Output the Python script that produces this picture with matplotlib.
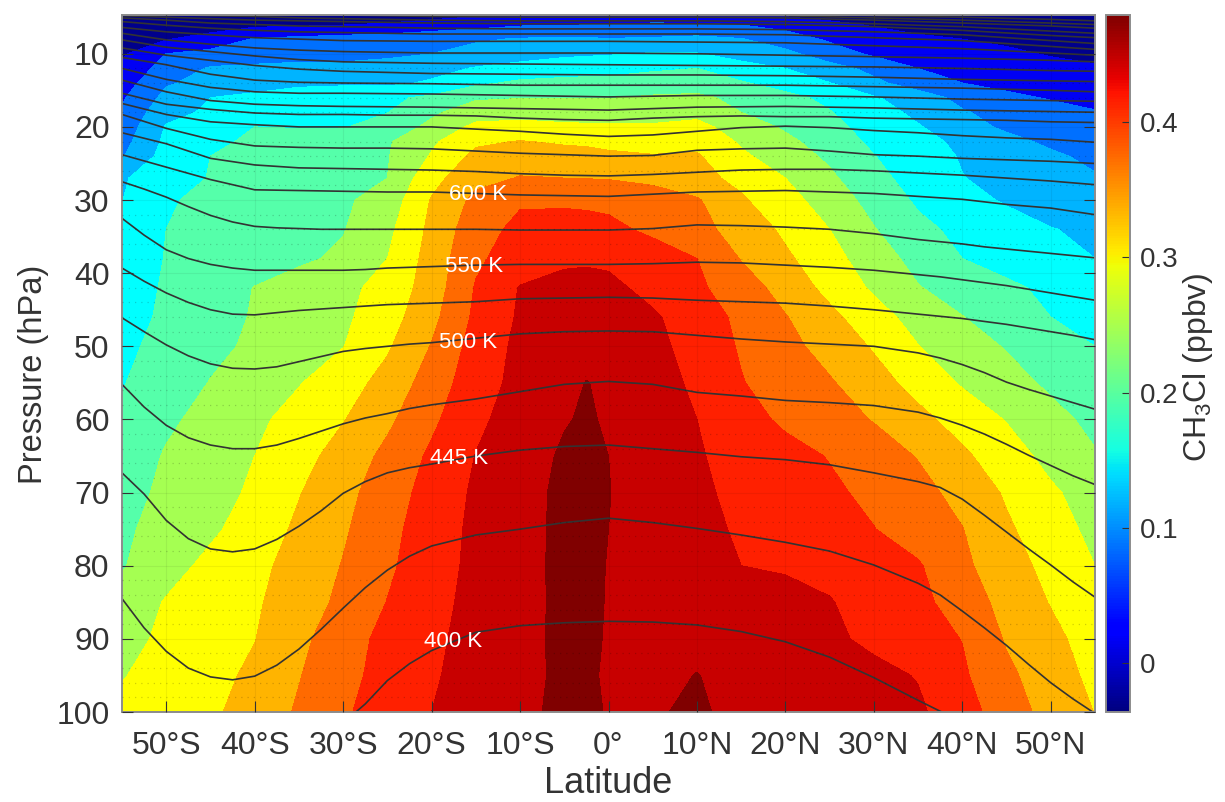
import numpy as np
import matplotlib
matplotlib.use('Agg')
import matplotlib.pyplot as plt
from matplotlib.cm import ScalarMappable
from matplotlib.colors import Normalize

plt.rcParams['font.family'] = ['Liberation Sans', 'DejaVu Sans']
plt.rcParams['mathtext.default'] = 'regular'

# grid of the CH3Cl field
lat = [-55, -50, -45, -40, -35, -30, -25, -20, -15, -10, -5, -2.5, 0, 5, 10, 15, 20, 25, 30, 35, 40, 45, 50, 55]
pres = [4.5, 6, 8, 10, 12, 14, 16, 18, 20, 22, 24, 27, 30, 34, 38, 42, 46, 50, 55, 60, 65, 70, 75, 80, 85, 90, 95, 100]
ch3cl = [
    [-.015, -.01, -.005, 0, .005, .01, .015, .02, .03, .036, .041, .045, .05, .05, .044, .036, .03, .02, .01, 0, -.003, -.007, -.01, -.01],
    [0, .01, .02, .03, .033, .038, .044, .055, .065, .075, .077, .079, .081, .085, .085, .079, .065, .05, .036, .02, .015, .01, .005, 0],
    [.015, .038, .055, .083, .09, .095, .10, .108, .115, .123, .127, .125, .122, .125, .13, .122, .10, .074, .06, .05, .04, .033, .025, .018],
    [.034, .08, .091, .10, .106, .105, .11, .12, .134, .145, .153, .155, .157, .163, .162, .145, .13, .10, .073, .063, .055, .047, .037, .031],
    [.048, .096, .124, .128, .13, .132, .14, .147, .163, .172, .18, .183, .186, .195, .20, .175, .16, .134, .11, .08, .07, .06, .052, .044],
    [.061, .116, .132, .145, .153, .154, .152, .165, .192, .208, .212, .213, .213, .217, .22, .204, .183, .161, .128, .103, .08, .07, .063, .0565],
    [.075, .131, .16, .168, .177, .185, .193, .207, .235, .238, .238, .238, .238, .245, .248, .2295, .2115, .19, .164, .137, .11, .088, .077, .07],
    [.085, .148, .166, .174, .182, .19, .199, .233, .26, .272, .268, .268, .27, .27, .27, .24, .221, .202, .177, .151, .123, .108, .094, .082],
    [.095, .163, .182, .20, .198, .198, .2145, .25, .29, .287, .285, .284, .283, .283, .29, .264, .234, .21, .186, .163, .136, .113, .097, .092],
    [.105, .169, .192, .2064, .216, .226, .2355, .273, .313, .322, .315, .313, .305, .30, .309, .275, .25, .22, .193, .172, .152, .132, .112, .102],
    [.117, .176, .20, .2097, .219, .228, .2375, .2835, .33, .342, .335, .333, .33, .323, .324, .287, .259, .233, .201, .178, .157, .142, .127, .11],
    [.156, .182, .202, .212, .2214, .231, .24, .307, .348, .362, .36, .359, .358, .35, .332, .31, .28, .247, .212, .184, .161, .15, .138, .124],
    [.159, .197, .2066, .216, .225, .234, .256, .323, .37, .395, .392, .39, .388, .38, .364, .325, .294, .262, .226, .194, .172, .156, .148, .137],
    [.166, .20, .2095, .219, .229, .238, .27, .33, .384, .41, .42, .418, .412, .39, .371, .346, .312, .28, .242, .21, .19, .176, .161, .155],
    [.172, .202, .213, .224, .234, .246, .28, .336, .393, .42, .433, .435, .433, .424, .40, .358, .327, .294, .259, .227, .20, .186, .173, .16],
    [.178, .205, .223, .241, .255, .27, .293, .339, .403, .442, .452, .452, .449, .429, .407, .379, .345, .308, .274, .242, .224, .207, .192, .185],
    [.184, .207, .225, .243, .258, .273, .302, .349, .408, .445, .453, .455, .453, .445, .421, .391, .362, .33, .296, .265, .241, .22, .20, .19],
    [.192, .211, .23, .247, .263, .279, .315, .362, .416, .449, .461, .466, .465, .45, .426, .396, .372, .345, .316, .281, .259, .237, .219, .20],
    [.198, .219, .2415, .26, .278, .302, .334, .378, .423, .451, .47, .481, .474, .458, .432, .402, .382, .364, .336, .306, .276, .255, .233, .215],
    [.205, .232, .254, .272, .294, .318, .352, .392, .432, .457, .4775, .484, .476, .46, .44, .415, .393, .375, .358, .331, .304, .278, .252, .23],
    [.212, .244, .262, .28, .306, .336, .37, .407, .441, .463, .485, .486, .48, .46, .443, .428, .413, .398, .378, .358, .327, .298, .268, .243],
    [.224, .249, .266, .286, .318, .348, .381, .415, .446, .467, .488, .487, .481, .463, .446, .432, .419, .407, .391, .372, .348, .315, .286, .262],
    [.233, .2545, .273, .298, .327, .355, .388, .421, .448, .468, .488, .487, .48, .465, .449, .436, .424, .412, .401, .381, .361, .326, .297, .27],
    [.237, .265, .29, .31, .334, .362, .393, .424, .449, .469, .488, .486, .479, .465, .452, .44, .437, .43, .42, .404, .368, .337, .308, .28],
    [.254, .283, .299, .315, .34, .369, .401, .428, .451, .469, .4875, .486, .4785, .465, .458, .453, .449, .442, .425, .41, .383, .346, .318, .29],
    [.266, .2885, .304, .319, .35, .383, .411, .433, .452, .47, .4875, .485, .478, .467, .47, .462, .455, .447, .432, .416, .399, .356, .33, .303],
    [.278, .294, .309, .327, .358, .388, .414, .436, .454, .471, .486, .485, .476, .47, .481, .468, .462, .456, .45, .438, .406, .368, .339, .31],
    [.29, .302, .314, .335, .365, .395, .418, .44, .456, .472, .488, .486, .478, .474, .49, .46, .458, .453, .45, .446, .418, .378, .347, .319],
]
levels = [-1, .04, .08, .12, .16, .20, .24, .28, .32, .36, .40, .44, .48, 1]
band_colors = ['#00008c', '#0000f5', '#0070ff', '#00b4ff', '#00ffff', '#55ffaa', '#a5ff52',
               '#ffff00', '#ffb400', '#ff6a00', '#ff2000', '#c80000', '#800000']

# isentropes, pressure (hPa) at each latitude
lat_low = [-55, -52.5, -50, -47.5, -45, -42.5, -40, -37.5, -35, -32.5, -30, -27.5, -25, -22.5, -20, -15, -10, -5, 0,
           5, 10, 15, 20, 25, 30, 35, 37.5, 40, 42.5, 45, 47.5, 50, 52.5, 55]
isentropes_low = [
    [103, 103, 103, 103, 103, 103, 103, 103, 103, 103, 101.5, 98.9, 95.7, 93.4, 91.6, 89.1, 88.2, 87.8, 87.6,
     87.7, 88.1, 89, 90.4, 92.5, 95.3, 98.4, 99.9, 101.2, 103, 103, 103, 103, 103, 103],
    [84.5, 88.5, 91.7, 94, 95.2, 95.6, 95.1, 93.6, 91.4, 88.7, 85.8, 83, 80.6, 78.7, 77.3, 75.8, 75, 74.1, 73.5,
     74.1, 74.9, 75.8, 76.8, 78, 79.9, 82.4, 84, 86.2, 88.5, 90.9, 93.5, 96, 98.2, 100.2],
    [67.3, 70.2, 73.8, 76.3, 77.7, 78.1, 77.7, 76.4, 74.6, 72.5, 70.1, 68.5, 67.3, 66.6, 66.1, 65, 64.2, 63.7, 63.5,
     64, 64.5, 65.1, 65.5, 66.2, 67.3, 68.5, 69.3, 70.9, 73.1, 75.4, 77.7, 79.9, 82.2, 84.3],
    [55.2, 58.3, 60.8, 62.5, 63.5, 64, 64, 63.5, 62.6, 61.6, 60.6, 59.8, 59.2, 58.5, 58, 57.2, 56.2, 55.2, 54.8,
     55.2, 56.3, 56.8, 57.4, 57.7, 58.1, 59, 59.8, 60.8, 62, 63.4, 64.9, 66.3, 67.7, 68.9],
    [46.1, 48, 49.8, 51.3, 52.4, 53, 53.1, 52.8, 52.1, 51.4, 50.7, 50.3, 50, 49.7, 49.5, 48.9, 48.3, 48, 47.9,
     48, 48.5, 49, 49.4, 49.7, 50, 50.9, 51.6, 52.5, 53.6, 54.9, 55.9, 56.8, 57.7, 58.6],
    [39.3, 41.1, 42.7, 44, 45, 45.6, 45.7, 45.4, 45.1, 44.9, 44.7, 44.5, 44.3, 44.2, 44.1, 43.9, 43.5, 43.4, 43.3,
     43.4, 43.7, 43.9, 44.1, 44.5, 45, 45.6, 45.9, 46.2, 46.6, 47, 47.5, 48, 48.5, 49.1],
    [32.5, 34.8, 36.8, 38, 38.8, 39.3, 39.6, 39.6, 39.6, 39.6, 39.6, 39.5, 39.3, 39.2, 39.1, 38.9, 38.8, 38.8, 38.8,
     38.7, 38.5, 38.6, 38.9, 39.2, 39.6, 40.2, 40.5, 40.9, 41.3, 41.7, 42.2, 42.7, 43.2, 43.7],
    [27.5, 28.5, 29.6, 30.9, 32.1, 33, 33.6, 33.8, 33.9, 34, 34, 34, 34, 34, 34, 34, 34.1, 34.1, 34.1,
     33.9, 33.4, 33.5, 33.7, 34, 34.6, 35.4, 35.7, 36, 36.4, 36.7, 37, 37.3, 37.6, 37.9],
]
lat_mid = [-55, -50, -45, -40, -35, -30, -25, -20, -15, -10, -5, 0, 5, 10, 15, 20, 25, 30, 35, 40, 45, 50, 55]
isentropes_mid = [
    [23.8, 25.5, 27.2, 28.6, 28.7, 28.8, 28.9, 28.9, 29.1, 29.3, 29.4, 29.5, 29.2, 28.9, 28.8, 28.7, 28.9, 29.1, 29.5, 29.9, 30.6, 31.1, 32],
    [20.8, 22.3, 24.3, 25.2, 25.6, 25.7, 25.8, 25.9, 26.1, 26.4, 26.6, 26.7, 26.5, 26.2, 25.9, 25.8, 25.8, 26, 26.3, 26.6, 27, 27.4, 27.9],
    [18.3, 20.2, 21.7, 22.6, 22.8, 22.9, 22.9, 23, 23.3, 23.6, 23.8, 24, 23.9, 23.2, 23, 22.9, 23.3, 23.8, 24, 24.3, 24.5, 24.7, 25],
    [16.8, 18.3, 19.3, 19.7, 20, 20, 20, 20, 20.3, 20.6, 21, 21.3, 21.1, 20.6, 20.1, 19.9, 20.1, 20.5, 20.8, 21.2, 21.5, 21.7, 22.1],
    [15.4, 16.9, 17.6, 18.1, 18.3, 18.3, 18.4, 18.4, 18.5, 18.8, 19, 19.1, 18.8, 18.6, 18.5, 18.6, 18.6, 18.8, 18.9, 19, 19.1, 19.3, 19.4],
]
lat_upper = [-55, -50, -45, -40, -35, -30, -20, -10, 0, 10, 20, 30, 40, 50, 55]
isentropes_upper = [
    [13.6, 15.2, 16.4, 16.9, 17.1, 17.2, 17.3, 17.5, 17.7, 17.3, 17.2, 17.4, 17.7, 17.9, 18],
    [12, 13.5, 14.6, 15.2, 15.4, 15.4, 15.5, 15.7, 15.9, 15.7, 15.7, 15.9, 16.2, 16.4, 16.5],
    [10.5, 11.5, 12.8, 13.6, 13.9, 14, 14.1, 14.3, 14.3, 14.3, 14.3, 14.5, 14.7, 15, 15.2],
    [9.2, 10.2, 10.9, 11.6, 12.1, 12.4, 12.7, 12.8, 12.9, 12.9, 13, 13.2, 13.5, 13.7, 13.8],
    [8.1, 9.1, 9.7, 10.3, 10.8, 11.1, 11.3, 11.4, 11.5, 11.6, 11.7, 11.8, 12, 12.3, 12.4],
    [7.2, 8.1, 8.7, 9.2, 9.5, 9.7, 9.9, 9.9, 9.9, 10, 10.2, 10.4, 10.6, 10.9, 11.1],
    [6.4, 7, 7.4, 7.8, 8, 8.2, 8.3, 8.3, 8.3, 8.4, 8.5, 8.9, 9.3, 9.9, 10.2],
    [5.6, 6.1, 6.5, 6.8, 7, 7.1, 7.3, 7.3, 7.3, 7.3, 7.4, 7.8, 8.2, 9, 9.4],
    [5.1, 5.4, 5.8, 6, 6.2, 6.3, 6.5, 6.6, 6.6, 6.6, 6.7, 7, 7.4, 8.2, 8.6],
    [4.8, 5, 5.2, 5.4, 5.5, 5.6, 5.8, 5.9, 5.9, 5.9, 6, 6.3, 6.8, 7.5, 7.8],
    [4.4, 4.6, 4.8, 4.9, 5.1, 5.2, 5.4, 5.5, 5.5, 5.5, 5.6, 5.9, 6.3, 6.9, 7.2],
    [4.1, 4.2, 4.3, 4.4, 4.6, 4.7, 4.9, 5, 5, 5, 5.1, 5.4, 5.8, 6.2, 6.5],
    [3.9, 4, 4.1, 4.2, 4.4, 4.5, 4.6, 4.7, 4.75, 4.75, 4.8, 5.1, 5.4, 5.8, 6],
    [3.7, 3.8, 3.9, 4, 4.1, 4.2, 4.3, 4.4, 4.45, 4.45, 4.5, 4.8, 5, 5.3, 5.5],
]
theta_labels = ['600 K', '550 K', '500 K', '445 K', '400 K']
theta_label_lat = [-14.8, -15.2, -15.9, -16.9, -17.6]
theta_label_pres = [29.2, 39.1, 49.5, 65.3, 90.3]

lat_ticks = [-50, -40, -30, -20, -10, 0, 10, 20, 30, 40, 50]
lat_tick_labels = ['50°S', '40°S', '30°S', '20°S', '10°S', '0°', '10°N', '20°N', '30°N', '40°N', '50°N']
pres_ticks = [10, 20, 30, 40, 50, 60, 70, 80, 90, 100]
cbar_ticks = [0, 0.1, 0.2, 0.3, 0.4]

text_color = '#333333'
frame_color = '#8c8c8c'

fig = plt.figure(figsize=(12.25, 8.02), dpi=100)
ax = fig.add_axes([122 / 1225, 1 - 712 / 802, 973 / 1225, 697 / 802])
ax.contourf(lat, pres, np.array(ch3cl), levels=levels, colors=band_colors)

for line in isentropes_low:
    ax.plot(lat_low, line, color='#333333', lw=1.2)
for line in isentropes_mid:
    ax.plot(lat_mid, line, color='#333333', lw=1.2)
for line in isentropes_upper:
    ax.plot(lat_upper, line, color='#333333', lw=1.2)

for name, x, y in zip(theta_labels, theta_label_lat, theta_label_pres):
    ax.text(x, y, name, color='white', fontsize=16, ha='center', va='center')

ax.set_xlim(-55, 55)
ax.set_ylim(100, 4.7)
ax.set_xticks(lat_ticks)
ax.set_xticklabels(lat_tick_labels)
ax.set_yticks(pres_ticks)
ax.set_yticks(np.arange(12, 100, 2), minor=True)
ax.tick_params(axis='both', which='major', direction='in', length=8, width=0.8, top=True, right=True,
               labelsize=23, colors=text_color, pad=9)
ax.tick_params(axis='x', which='major', pad=14)
ax.tick_params(axis='y', which='minor', length=0)
ax.grid(True, which='major', color='black', alpha=0.06, lw=0.8)
ax.grid(True, which='minor', axis='y', color='black', alpha=0.18, lw=0.9, linestyle=(0, (1, 4)))
ax.set_axisbelow(False)
ax.set_xlabel('Latitude', fontsize=26, color=text_color, labelpad=3)
ax.set_ylabel('Pressure (hPa)', fontsize=23.5, color=text_color, labelpad=5, y=0.485)
for s in ax.spines.values():
    s.set_color(frame_color)
    s.set_linewidth(1.4)

cax = fig.add_axes([1106 / 1225, 1 - 712 / 802, 24 / 1225, 697 / 802])
sm = ScalarMappable(norm=Normalize(-0.036, 0.479), cmap='jet')
cb = fig.colorbar(sm, cax=cax)
cb.set_ticks(cbar_ticks)
cb.set_ticklabels(['0', '0.1', '0.2', '0.3', '0.4'])
cb.ax.tick_params(direction='in', length=6, width=0.8, labelsize=20, colors=text_color, pad=7)
cb.set_label(r'CH$_3$Cl (ppbv)', fontsize=23, color=text_color, labelpad=2, y=0.495)
cb.outline.set_edgecolor(frame_color)
cb.outline.set_linewidth(1.4)

fig.savefig('out.png', dpi=100)
